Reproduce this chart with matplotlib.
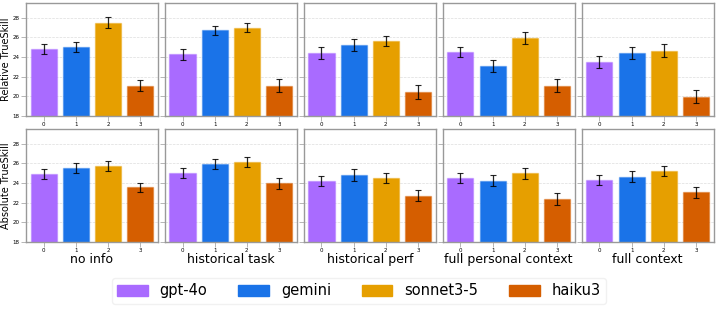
import numpy as np
import matplotlib.pyplot as plt

models = ['gpt-4o', 'gemini', 'sonnet3-5', 'haiku3']
colors = ['#a96bff', '#1a73e8', '#e69f00', '#d55e00']
conditions = ['no info', 'historical task', 'historical perf', 'full personal context', 'full context']

# relative trueskill, one list per condition (gpt-4o, gemini, sonnet3-5, haiku3)
rel_no_info = [24.8, 25.05, 27.5, 21.05]
rel_hist_task = [24.27, 26.7, 27.0, 21.08]
rel_hist_perf = [24.37, 25.2, 25.63, 20.4]
rel_full_personal = [24.48, 23.08, 25.93, 21.05]
rel_full_context = [23.46, 24.37, 24.64, 19.96]

rel_err_no_info = [0.55, 0.5, 0.55, 0.55]
rel_err_hist_task = [0.55, 0.5, 0.5, 0.65]
rel_err_hist_perf = [0.6, 0.6, 0.55, 0.7]
rel_err_full_personal = [0.5, 0.58, 0.57, 0.65]
rel_err_full_context = [0.6, 0.6, 0.65, 0.65]

# absolute trueskill
abs_no_info = [24.88, 25.52, 25.72, 23.55]
abs_hist_task = [25.0, 25.93, 26.13, 23.96]
abs_hist_perf = [24.16, 24.78, 24.47, 22.7]
abs_full_personal = [24.5, 24.22, 25.0, 22.36]
abs_full_context = [24.3, 24.64, 25.18, 23.04]

abs_err_no_info = [0.5, 0.48, 0.5, 0.45]
abs_err_hist_task = [0.5, 0.5, 0.5, 0.55]
abs_err_hist_perf = [0.5, 0.6, 0.5, 0.55]
abs_err_full_personal = [0.48, 0.55, 0.55, 0.58]
abs_err_full_context = [0.5, 0.55, 0.5, 0.55]

rel = [rel_no_info, rel_hist_task, rel_hist_perf, rel_full_personal, rel_full_context]
rel_err = [rel_err_no_info, rel_err_hist_task, rel_err_hist_perf, rel_err_full_personal, rel_err_full_context]
absv = [abs_no_info, abs_hist_task, abs_hist_perf, abs_full_personal, abs_full_context]
abs_err = [abs_err_no_info, abs_err_hist_task, abs_err_hist_perf, abs_err_full_personal, abs_err_full_context]

fig, axes = plt.subplots(2, 5, figsize=(7.18, 3.33), dpi=100, sharey=True)
fig.subplots_adjust(left=0.036, right=0.994, top=0.991, bottom=0.274, wspace=0.053, hspace=0.118)

x = np.arange(len(models))
rows = [(rel, rel_err, 'Relative TrueSkill'), (absv, abs_err, 'Absolute TrueSkill')]
for r, (vals, errs, ylab) in enumerate(rows):
    for c in range(5):
        ax = axes[r, c]
        ax.set_axisbelow(True)
        ax.yaxis.grid(True, color='#dddddd', linestyle='--', linewidth=0.5)
        ax.bar(x, vals[c], width=0.81, color=colors,
               edgecolor=[plt.matplotlib.colors.to_rgba(cl, 0.4) for cl in colors], linewidth=1.0)
        ax.errorbar(x, vals[c], yerr=errs[c], fmt='none', ecolor='black', elinewidth=0.9,
                    capsize=2.5, capthick=0.8, alpha=0.85)
        ax.set_ylim(18, 29.5)
        ax.set_xlim(-0.55, 3.55)
        ax.set_yticks([18, 20, 22, 24, 26, 28])
        ax.set_xticks(x)
        ax.tick_params(axis='both', labelsize=4, length=3.5, width=0.5, color='#999999', pad=1)
        for s in ax.spines.values():
            s.set_color('#999999')
            s.set_linewidth(1.0)
        if c == 0:
            ax.set_ylabel(ylab, fontsize=7, labelpad=1)
        if r == 1:
            ax.set_xlabel(conditions[c], fontsize=9, labelpad=0)

handles = [plt.Rectangle((0, 0), 1, 1, color=cl) for cl in colors]
fig.legend(handles, models, loc='upper center', bbox_to_anchor=(0.5, 0.186), ncol=4,
           fontsize=10.5, frameon=True, edgecolor='#eeeeee', handlelength=2.1, handleheight=0.75,
           columnspacing=2.1, handletextpad=0.84, borderpad=0.35)

fig.savefig('out.png', dpi=100)
